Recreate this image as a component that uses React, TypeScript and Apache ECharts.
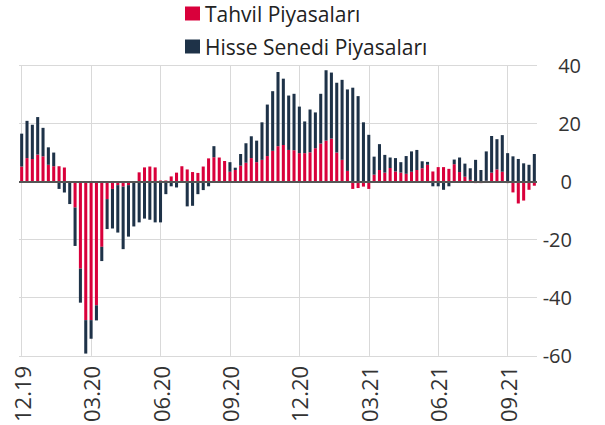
import React, { useEffect, useRef } from "react";
import * as echarts from "echarts";

const tickLabels = ["12.19", "03.20", "06.20", "09.20", "12.20", "03.21", "06.21", "09.21"];
const weeksPerTick = 13;

const tahvil = [
  5.1, 8.0, 7.7, 9.2, 8.6, 5.7, 5.2, 5.2, 4.8, 0,
  -9.0, -30.0, -47.7, -47.7, -42.6, -22.5, -6.1, -2.6, -1.3, -1.8,
  -1.3, 0, 3.1, 4.8, 5.1, 4.8, 0.3, 0.3, 1.7, 3.0,
  5.2, 4.1, 3.2, 2.9, 5.1, 7.9, 8.3, 8.2, 7.0, 3.3,
  3.9, 5.4, 6.4, 8.0, 6.6, 7.4, 8.7, 10.5, 12.1, 12.5,
  10.8, 10.7, 9.7, 9.7, 10.0, 11.4, 13.0, 14.0, 14.7, 9.9,
  7.4, 3.6, -2.6, -2.3, -1.8, -2.6, 2.3, 3.9, 3.0, 4.6,
  3.4, 3.0, 2.6, 3.3, 3.9, 4.5, 5.7, 3.4, 4.9, 4.9,
  4.3, 5.9, 3.2, 1.6, 0.5, -0.6, -0.6, 0.2, 3.0, 4.1,
  3.3, -0.6, -3.8, -7.6, -6.6, -2.9, -1.5,
];

const hisse = [
  11.3, 12.8, 11.8, 12.9, 9.8, 6.0, 4.7, -2.6, -3.8, -7.8,
  -13.2, -11.7, -11.5, -6.4, -5.2, -4.9, -10.3, -13.6, -16.3, -21.5,
  -17.7, -15.5, -14.1, -12.8, -13.2, -14.1, -14.1, -4.4, -1.7, -2.1,
  -0.3, -8.6, -8.4, -4.4, -3.0, -1.7, 3.8, -0.5, -0.5, 3.3,
  0.8, 4.0, 6.7, 7.5, 7.4, 12.9, 17.7, 20.5, 25.5, 22.8,
  18.7, 19.4, 16.0, 10.9, 14.7, 12.3, 17.1, 24.2, 22.7, 24.0,
  27.5, 28.0, 32.2, 29.3, 20.3, 16.0, 6.2, 8.9, 6.1, 3.6,
  4.6, 3.6, 6.1, 7.0, 6.9, 2.4, 1.0, -1.7, -1.7, -2.9,
  -1.7, 1.6, 5.0, 4.5, 4.0, 7.4, 3.9, 10.1, 12.6, 10.4,
  12.6, 9.7, 8.6, 7.7, 6.2, 5.7, 9.4,
];

const categories = tahvil.map((_, i) => String(i));

const FONT = "'Open Sans', 'Noto Sans', sans-serif";
const RED = "#d9003b";
const NAVY = "#1e3248";
const GRID = "#d9d9d9";
const FS = 20;

const isTick = (index: number) => index % weeksPerTick === 0;

export default function App() {
  const ref = useRef<HTMLDivElement>(null);

  useEffect(() => {
    document.body.style.margin = "0";
    if (!ref.current) return;
    const chart = echarts.init(ref.current, undefined, { renderer: "svg" });
    chart.setOption({
      animation: false,
      textStyle: { fontFamily: FONT },
      legend: {
        orient: "vertical",
        left: 185,
        top: 3,
        padding: 0,
        itemWidth: 15,
        itemHeight: 14,
        itemGap: 12,
        icon: "rect",
        textStyle: { fontSize: 21, color: "#222", fontFamily: FONT },
        data: ["Tahvil Piyasaları", "Hisse Senedi Piyasaları"],
      },
      grid: { left: 19, right: 68, top: 65, bottom: 69 },
      xAxis: {
        type: "category",
        data: categories,
        boundaryGap: true,
        axisLine: { show: false, onZero: false },
        axisTick: { show: false, interval: (i: number) => isTick(i), alignWithLabel: true },
        splitLine: {
          show: true,
          interval: (i: number) => isTick(i),
          alignWithLabel: true,
          lineStyle: { color: GRID, width: 1 },
        },
        axisLabel: {
          interval: (i: number) => isTick(i),
          rotate: 90,
          margin: 10,
          fontSize: 22,
          color: "#333",
          fontFamily: FONT,
          formatter: (_v: string, i: number) => tickLabels[Math.floor(i / weeksPerTick)] ?? "",
        },
      },
      yAxis: {
        type: "value",
        position: "right",
        min: -60,
        max: 40,
        interval: 20,
        axisLine: { show: false },
        axisTick: { show: false },
        splitLine: { show: true, lineStyle: { color: GRID, width: 1 } },
        axisLabel: {
          margin: 44,
          align: "right",
          fontFamily: FONT,
          formatter: (v: number) => (v > 0 ? `{p|${v}}` : `{n|${v}}`),
          rich: {
            p: { fontSize: FS, color: "#333", fontFamily: FONT },
            n: { fontSize: FS, color: "#333", fontFamily: FONT, padding: [0, 9, 0, 0] },
          },
        },
      },
      series: [
        {
          name: "Tahvil Piyasaları",
          type: "bar",
          stack: "total",
          data: tahvil,
          barCategoryGap: "43%",
          itemStyle: { color: RED },
        },
        {
          name: "Hisse Senedi Piyasaları",
          type: "bar",
          stack: "total",
          data: hisse,
          barCategoryGap: "43%",
          itemStyle: { color: NAVY },
          markLine: {
            silent: true,
            symbol: ["none", "none"],
            label: { show: false },
            lineStyle: { color: "#555", width: 2, type: "solid" },
            data: [{ yAxis: 0 }],
          },
        },
      ],
    });
    return () => chart.dispose();
  }, []);

  return <div ref={ref} style={{ width: 605, height: 425 }} />;
}
